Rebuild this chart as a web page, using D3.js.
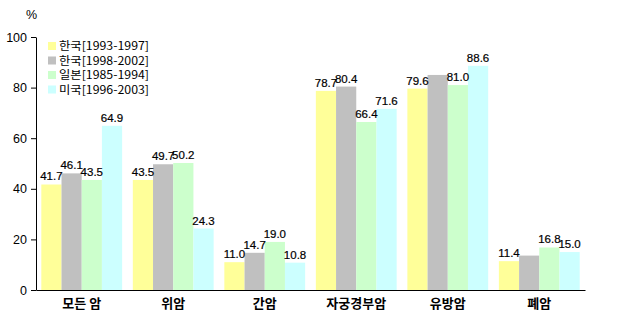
<!DOCTYPE html>
<html>
<head>
<meta charset="utf-8">
<script src="https://cdn.jsdelivr.net/npm/d3@7"></script>
<style>
  body { margin: 0; background: #fff; }
  svg { display: block; }
</style>
</head>
<body>
<svg id="chart" width="619" height="330"></svg>
<script>
const categories = ["모든 암", "위암", "간암", "자궁경부암", "유방암", "폐암"];
const seriesNames = ["한국[1993-1997]", "한국[1998-2002]", "일본[1985-1994]", "미국[1996-2003]"];
const seriesColors = ["#FFFF99", "#C0C0C0", "#CCFFCC", "#CCFFFF"];
const korea9397 = [41.7, 43.5, 11.0, 78.7, 79.6, 11.4];
const korea9802 = [46.1, 49.7, 14.7, 80.4, 85.0, 13.6];
const japan8594 = [43.5, 50.2, 19.0, 66.4, 81.0, 16.8];
const usa9603 = [64.9, 24.3, 10.8, 71.6, 88.6, 15.0];
// labels not printed in the original
const noLabel = [[1, 4], [1, 5]];
const yTicks = [0, 20, 40, 60, 80, 100];

const values = [korea9397, korea9802, japan8594, usa9603];

const svg = d3.select("#chart");
const margin = {left: 36, right: 34, top: 37, bottom: 40};
const width = 619, height = 330;

const x0 = d3.scaleBand()
    .domain(categories)
    .range([margin.left, width - margin.right])
    .paddingInner(0.117)
    .paddingOuter(0.058);

const x1 = d3.scaleBand()
    .domain(d3.range(seriesNames.length))
    .range([0, x0.bandwidth()]);

const y = d3.scaleLinear()
    .domain([0, 100])
    .range([height - margin.bottom, margin.top]);

const groups = svg.append("g")
    .selectAll("g")
    .data(categories)
    .join("g")
    .attr("transform", d => `translate(${x0(d)},0)`);

groups.selectAll("rect")
    .data((c, ci) => values.map((s, si) => ({si, ci, v: s[ci]})))
    .join("rect")
    .attr("x", d => x1(d.si))
    .attr("y", d => y(d.v))
    .attr("width", x1.bandwidth())
    .attr("height", d => y(0) - y(d.v))
    .attr("fill", d => seriesColors[d.si]);

const hidden = d => noLabel.some(p => p[0] === d.si && p[1] === d.ci);

groups.selectAll("text")
    .data((c, ci) => values.map((s, si) => ({si, ci, v: s[ci]})).filter(d => !hidden(d)))
    .join("text")
    .attr("x", d => x1(d.si) + x1.bandwidth() / 2)
    .attr("y", d => y(d.v) - 4)
    .attr("text-anchor", "middle")
    .attr("font-family", "'Liberation Sans Narrow', 'Arial Narrow', sans-serif")
    .attr("font-size", 11.5)
    .attr("fill", "#000")
    .attr("stroke", "#000")
    .attr("stroke-width", 0.2)
    .text(d => d.v.toFixed(1));

// y axis
const yAxis = svg.append("g")
    .attr("transform", `translate(${margin.left},0)`)
    .call(d3.axisLeft(y).tickValues(yTicks).tickSize(5).tickSizeOuter(0).tickPadding(4));
yAxis.select(".domain").attr("stroke", "#000");
yAxis.selectAll("text")
    .attr("font-family", "Arial, 'Liberation Sans', sans-serif")
    .attr("font-size", 12.5)
    .attr("fill", "#000");

// x axis
const xAxis = svg.append("g")
    .attr("transform", `translate(0,${y(0)})`)
    .call(d3.axisBottom(x0).tickSize(0).tickPadding(9));
xAxis.select(".domain").attr("stroke", "#000").attr("stroke-width", 1.2);
xAxis.selectAll("text")
    .attr("font-family", "'Noto Sans CJK KR', sans-serif")
    .attr("font-size", 13)
    .attr("font-weight", "bold")
    .attr("fill", "#000");

svg.append("text")
    .attr("x", 26)
    .attr("y", 19)
    .attr("font-family", "Arial, 'Liberation Sans', sans-serif")
    .attr("font-size", 12.5)
    .text("%");

// legend
const legend = svg.append("g")
    .attr("transform", "translate(48,46)")
    .selectAll("g")
    .data(seriesNames)
    .join("g")
    .attr("transform", (d, i) => `translate(0,${i * 14.5})`);

legend.append("rect")
    .attr("x", 0)
    .attr("y", -4)
    .attr("width", 8)
    .attr("height", 8)
    .attr("fill", (d, i) => seriesColors[i]);

legend.append("text")
    .attr("x", 11)
    .attr("y", 0)
    .attr("dy", "0.35em")
    .attr("font-family", "'Noto Sans CJK KR', sans-serif")
    .attr("font-size", 11.5)
    .attr("textLength", 90)
    .attr("lengthAdjust", "spacingAndGlyphs")
    .text(d => d);
</script>
</body>
</html>
